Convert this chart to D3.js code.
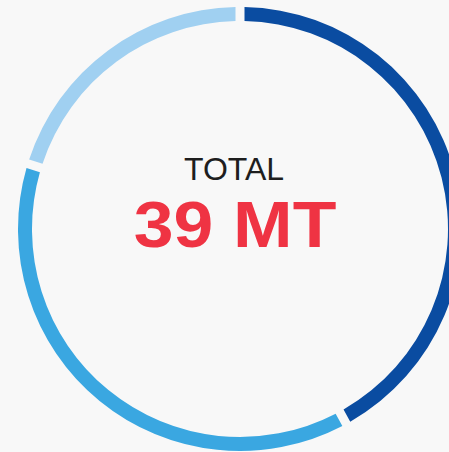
<!DOCTYPE html>
<html>
<head>
<meta charset="utf-8">
<script src="https://cdn.jsdelivr.net/npm/d3@7"></script>
<style>
  html, body { margin: 0; padding: 0; background: #f8f8f8; overflow: hidden; }
  svg { display: block; }
</style>
</head>
<body>
<div id="chart"></div>
<script>
// data (values in MT)
var segments = ["A", "B", "C"];
var values = [16.4, 14.7, 7.9];
var colors = ["#0a4ca1", "#3aa7e1", "#a0d0f1"];
var totalLabel = "TOTAL";
var totalValue = "39 MT";

var width = 449, height = 452;
var cx = 240, cy = 229;
var outerR = 222, innerR = 208;

const svg = d3.select("#chart")
  .append("svg")
    .attr("width", width)
    .attr("height", height);

const g = svg.append("g")
    .attr("transform", `translate(${cx}, ${cy})`);

const pie = d3.pie()
  .sort(null)
  .value(function(d) { return d; });

const arc = d3.arc()
  .innerRadius(innerR)
  .outerRadius(outerR)
  .padRadius(outerR)
  .padAngle(9 / outerR);

g.selectAll("path")
  .data(pie(values))
  .enter()
  .append("path")
    .attr("d", arc)
    .attr("fill", function(d, i) { return colors[i]; });

// centre labels
svg.append("text")
  .attr("x", 234)
  .attr("y", 180)
  .attr("text-anchor", "middle")
  .style("font-family", "'Liberation Sans', Arial, sans-serif")
  .style("font-size", "32px")
  .attr("fill", "#1e1e1e")
  .text(totalLabel);

// the big number is a bit wider than plain bold, stretch it slightly
svg.append("g")
  .attr("transform", "translate(235, 247) scale(1.1, 1)")
  .append("text")
    .attr("text-anchor", "middle")
    .style("font-family", "'Liberation Sans', Arial, sans-serif")
    .style("font-size", "65px")
    .style("font-weight", "bold")
    .attr("fill", "#ef3343")
    .text(totalValue);
</script>
</body>
</html>
